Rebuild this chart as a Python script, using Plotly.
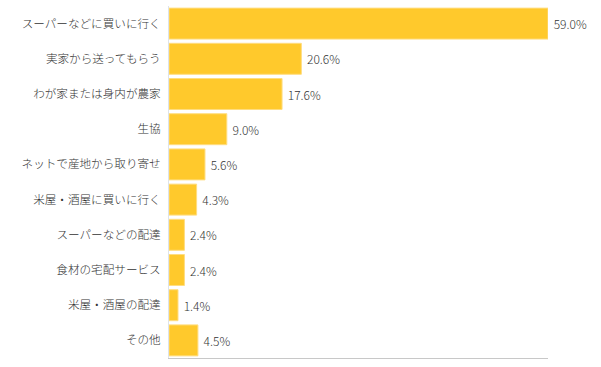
import plotly.graph_objects as go

categories = ["スーパーなどに買いに行く", "実家から送ってもらう", "わが家または身内が農家", "生協",
              "ネットで産地から取り寄せ", "米屋・酒屋に買いに行く", "スーパーなどの配達",
              "食材の宅配サービス", "米屋・酒屋の配達", "その他"]
values = [59.0, 20.6, 17.6, 9.0, 5.6, 4.3, 2.4, 2.4, 1.4, 4.5]
labels = [f" {v:.1f}%" for v in values]

fig = go.Figure(go.Bar(
    x=values, y=categories, orientation="h",
    marker=dict(color="#FFC92C", line=dict(color="#FFDD80", width=1)),
    text=labels, textposition="outside", cliponaxis=False,
    textfont=dict(size=12, color="#333333", weight=300),
    width=0.88,
))
fig.update_layout(
    width=601, height=367,
    margin=dict(l=169, r=53, t=6, b=9),
    plot_bgcolor="white", paper_bgcolor="white",
    font=dict(family="Noto Sans CJK JP", size=12, color="#333333"),
    showlegend=False, bargap=0.12,
)
fig.update_xaxes(range=[0, 59.0], showgrid=False, showticklabels=False, zeroline=False,
                 showline=True, linecolor="#C8C8C8", linewidth=1, ticks="", automargin=False)
fig.update_yaxes(autorange="reversed", showgrid=False, showline=True, linecolor="#DDE3EA",
                 linewidth=1, ticks="", ticklabelstandoff=5, automargin=False,
                 tickfont=dict(size=11.6, color="#333333", weight=300))
fig.write_html("out.html", config={"displayModeBar": False, "staticPlot": True},
               post_script="document.body.style.margin='0';document.body.style.overflow='hidden';")
